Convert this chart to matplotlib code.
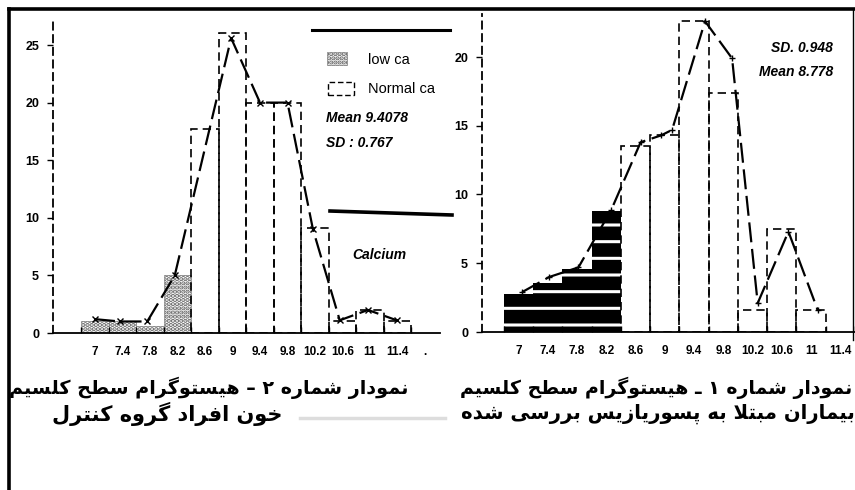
import numpy
import matplotlib
matplotlib.use("Agg")
from matplotlib import pyplot as plt
from matplotlib.patches import Rectangle
from matplotlib.lines import Line2D

# ---- data ----
bins = [7, 7.4, 7.8, 8.2, 8.6, 9, 9.4, 9.8, 10.2, 10.6, 11, 11.4]
bin_labels = ['7', '7.4', '7.8', '8.2', '8.6', '9', '9.4', '9.8', '10.2', '10.6', '11', '11.4']

# figure 2 (control group), left panel
ctrl_low_x = [7, 7.4, 7.8, 8.2]
ctrl_low_n = [1.0, 1.0, 0.6, 5.0]
ctrl_norm_x = [8.6, 9, 9.4, 9.8, 10.2, 10.6, 11, 11.4]
ctrl_norm_n = [17.7, 26.0, 20.0, 20.0, 9.1, 1.0, 2.0, 1.0]
ctrl_poly_x = [7.0, 7.36, 7.76, 8.16, 8.98, 9.4, 9.8, 10.17, 10.56, 10.97, 11.39]
ctrl_poly_n = [1.2, 1.0, 1.0, 5.0, 25.6, 20.0, 20.0, 9.0, 1.1, 2.0, 1.1]
ctrl_mean = 'Mean 9.4078'
ctrl_sd = 'SD : 0.767'

# figure 1 (psoriasis patients), right panel
pso_low_x = [7, 7.4, 7.8, 8.2]
pso_low_n = [2.8, 3.6, 4.6, 8.8]
pso_norm_x = [8.6, 9, 9.4, 9.8, 10.2, 10.6, 11]
pso_norm_n = [13.5, 14.3, 22.6, 17.4, 1.6, 7.5, 1.6]
pso_poly_x = [7.05, 7.42, 7.82, 8.27, 8.67, 8.95, 9.1, 9.55, 9.92, 10.27, 10.69, 11.09]
pso_poly_n = [2.9, 4.0, 4.7, 8.9, 13.8, 14.3, 14.7, 22.6, 19.9, 2.1, 7.3, 1.6]
pso_mean = 'Mean 8.778'
pso_sd = 'SD. 0.948'

cap_left_1 = "نمودار شماره ۲ – هیستوگرام سطح کلسیم"
cap_left_2 = "خون افراد گروه کنترل"
cap_right_1 = "نمودار شماره ۱ ـ هیستوگرام سطح کلسیم"
cap_right_2 = "بیماران مبتلا به پسوریازیس بررسی شده"

# ---- persian shaping (matplotlib has no complex text layout) ----
FORMS = {
	'ا': (0xFE8D, 0xFE8E), 'د': (0xFEA9, 0xFEAA), 'ر': (0xFEAD, 0xFEAE),
	'ز': (0xFEAF, 0xFEB0), 'و': (0xFEED, 0xFEEE), 'LA': (0xFEFB, 0xFEFC),
	'ب': (0xFE8F, 0xFE90, 0xFE91, 0xFE92), 'پ': (0xFB56, 0xFB57, 0xFB58, 0xFB59),
	'ت': (0xFE95, 0xFE96, 0xFE97, 0xFE98), 'ح': (0xFEA1, 0xFEA2, 0xFEA3, 0xFEA4),
	'خ': (0xFEA5, 0xFEA6, 0xFEA7, 0xFEA8), 'س': (0xFEB1, 0xFEB2, 0xFEB3, 0xFEB4),
	'ش': (0xFEB5, 0xFEB6, 0xFEB7, 0xFEB8), 'ط': (0xFEC1, 0xFEC2, 0xFEC3, 0xFEC4),
	'ف': (0xFED1, 0xFED2, 0xFED3, 0xFED4), 'ک': (0xFB8E, 0xFB8F, 0xFB90, 0xFB91),
	'گ': (0xFB92, 0xFB93, 0xFB94, 0xFB95), 'ل': (0xFEDD, 0xFEDE, 0xFEDF, 0xFEE0),
	'م': (0xFEE1, 0xFEE2, 0xFEE3, 0xFEE4), 'ن': (0xFEE5, 0xFEE6, 0xFEE7, 0xFEE8),
	'ه': (0xFEE9, 0xFEEA, 0xFEEB, 0xFEEC), 'ی': (0xFBFC, 0xFBFD, 0xFBFE, 0xFBFF),
}

def shape(s):
	toks = []
	i = 0
	while i < len(s):
		if s[i] == 'ل' and i + 1 < len(s) and s[i + 1] == 'ا':
			toks.append('LA'); i += 2
		else:
			toks.append(s[i]); i += 1
	out = []
	for k, t in enumerate(toks):
		if t not in FORMS:
			out.append(t); continue
		f = FORMS[t]
		prev = toks[k - 1] if k > 0 else None
		nxt = toks[k + 1] if k + 1 < len(toks) else None
		cp = prev in FORMS and len(FORMS[prev]) == 4
		cn = len(f) == 4 and nxt in FORMS
		if cp and cn: c = f[3]
		elif cp: c = f[1]
		elif cn: c = f[2]
		else: c = f[0]
		out.append(chr(c))
	return ''.join(reversed(out))

# ---- figure ----
W, H = 855, 490
fig = plt.figure(figsize=(8.55, 4.9), dpi=100)
matplotlib.rcParams['hatch.linewidth'] = 2.2

def fx(px): return px / W
def fy(py): return 1 - py / H

def panel(left, right, top, zero, ppu_y, x7, ppu_x):
	ax = fig.add_axes([fx(left), fy(zero), fx(right - left), (zero - top) / H])
	ax.set_ylim(0, (zero - top) / ppu_y)
	ax.set_xlim(7 - (x7 - left) / ppu_x, 7 + (right - x7) / ppu_x)
	for s in ['top', 'right']:
		ax.spines[s].set_visible(False)
	ax.spines['left'].set_linestyle((0, (4, 3)))
	ax.spines['left'].set_linewidth(1.3)
	ax.spines['bottom'].set_linewidth(1.3)
	ax.tick_params(axis='y', direction='out', length=4, width=1, pad=6)
	ax.tick_params(axis='x', length=0, pad=9)
	ax.set_xticks(numpy.arange(6.8, 11.7, 0.4), minor=True)
	ax.tick_params(axis='x', which='minor', direction='in', length=4, width=1)
	return ax

ytickfont = {'family': 'Liberation Sans', 'weight': 'bold', 'size': 9}
xtickfont = {'family': 'Liberation Sans', 'weight': 'bold', 'size': 8.5}

# left panel: control group
axl = panel(53, 440, 22, 333, 11.52, 95, 68.75)
axl.bar(ctrl_low_x, ctrl_low_n, width=0.4, facecolor='white', edgecolor='#666666',
	hatch='....', linewidth=0.4)
axl.bar(ctrl_norm_x, ctrl_norm_n, width=0.4, fill=False, edgecolor='black',
	linestyle=(0, (5, 3)), linewidth=1.2)
axl.plot(ctrl_poly_x, ctrl_poly_n, color='black', lw=1.6, dashes=(9, 3),
	marker='x', ms=4, mew=1)
axl.set_yticks([0, 5, 10, 15, 20, 25])
axl.set_yticklabels(['0', '5', '10', '15', '20', '25'], fontdict=ytickfont)
axl.set_xticks(bins + [11.8])
axl.set_xticklabels(bin_labels + ['.'], fontdict=xtickfont)

# right panel: psoriasis patients
axr = panel(482, 855, 14, 332, 13.75, 519, 74.25)
axr.bar(pso_low_x, pso_low_n, width=0.4, facecolor='black', edgecolor='white',
	hatch='-', linewidth=0)
axr.bar(pso_norm_x, pso_norm_n, width=0.4, fill=False, edgecolor='black',
	linestyle=(0, (5, 3)), linewidth=1.2)
axr.plot(pso_poly_x, pso_poly_n, color='black', lw=1.6, dashes=(9, 3),
	marker='+', ms=5, mew=1)
axr.set_yticks([0, 5, 10, 15, 20])
axr.set_yticklabels(['0', '5', '10', '15', '20'], fontdict=ytickfont)
axr.set_xticks(bins)
axr.set_xticklabels(bin_labels, fontdict=xtickfont)

# legend block and stats (left panel)
def fline(x0, y0, x1, y1, lw, color='black'):
	fig.add_artist(Line2D([fx(x0), fx(x1)], [fy(y0), fy(y1)], color=color, lw=lw))

fline(312, 30, 450, 30, 2.2)
fline(330, 211, 452, 215, 2.6)
fig.add_artist(Rectangle((fx(327), fy(65)), fx(20), 13 / H, facecolor='white',
	edgecolor='#666666', hatch='....', lw=0.4))
fig.add_artist(Rectangle((fx(328), fy(95)), fx(26), 13 / H, fill=False,
	edgecolor='black', linestyle=(0, (4, 2)), lw=1))
small = {'family': 'Liberation Sans', 'size': 10.5}
stat = {'family': 'Liberation Sans', 'size': 10, 'weight': 'bold', 'style': 'italic'}
fig.text(fx(368), fy(60), 'low ca', va='center', ha='left', **small)
fig.text(fx(368), fy(89), 'Normal ca', va='center', ha='left', **small)
fig.text(fx(326), fy(118), ctrl_mean, va='center', ha='left', **stat)
fig.text(fx(326), fy(143), ctrl_sd, va='center', ha='left', **stat)
fig.text(fx(352), fy(255), 'Calcium', va='center', ha='left', **stat)
fig.text(fx(833), fy(48), pso_sd, va='center', ha='right', **stat)
fig.text(fx(833), fy(72), pso_mean, va='center', ha='right', **stat)

# page frame of the scan
fline(9, 9, 855, 9, 2.6)
fline(9, 9, 9, 490, 2.6)
fline(853, 9, 853, 340, 1.0)
fline(300, 418, 445, 418, 2.5, '#dddddd')

# persian captions
def caption(x, y, s, size):
	fig.text(fx(x), fy(y), shape(s), ha='right', va='center',
		family=['DejaVu Sans'], weight='bold', size=size)

caption(408, 388, cap_left_1, 13.8)
caption(282, 414, cap_left_2, 15)
caption(852, 388, cap_right_1, 13.6)
caption(855, 414, cap_right_2, 14.1)

plt.savefig('out.png', dpi=100)
